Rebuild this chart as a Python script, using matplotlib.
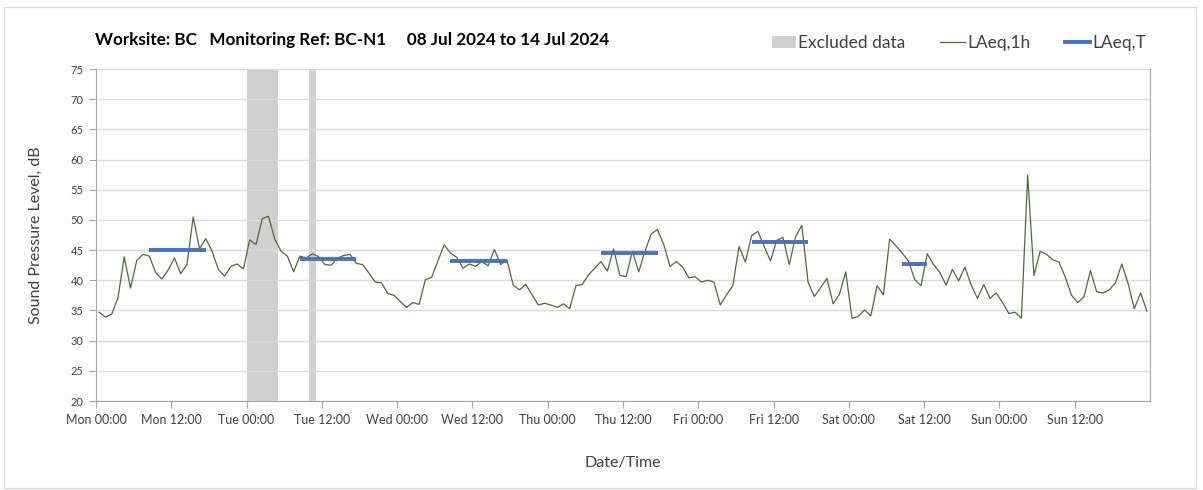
import numpy as np
import matplotlib
matplotlib.use("Agg")
import matplotlib.pyplot as plt
from matplotlib.patches import Rectangle, Patch
from matplotlib.lines import Line2D

plt.rcParams['font.family'] = ['Lato', 'DejaVu Sans']

# hourly LAeq,1h values, Mon 00:00 .. Sun 23:00
laeq_1h = [
    34.7, 33.9, 34.4, 37.1, 43.9, 38.7, 43.3, 44.3, 44.0, 41.3, 40.2, 41.7,
    43.7, 41.1, 42.6, 50.5, 45.2, 46.9, 44.8, 41.8, 40.7, 42.3, 42.7, 41.9,
    46.7, 45.9, 50.2, 50.6, 46.8, 44.8, 44.0, 41.4, 44.0, 43.7, 44.4, 43.9,
    42.6, 42.5, 43.7, 44.1, 44.3, 42.8, 42.6, 41.2, 39.7, 39.6, 37.8, 37.5,
    36.5, 35.5, 36.3, 36.0, 40.1, 40.5, 43.2, 45.9, 44.5, 43.8, 42.0, 42.7,
    42.3, 43.1, 42.4, 45.1, 42.6, 43.4, 39.2, 38.4, 39.3, 37.6, 35.9, 36.2,
    35.9, 35.5, 36.1, 35.3, 39.1, 39.3, 40.9, 42.0, 43.1, 41.5, 45.2, 40.8,
    40.6, 44.8, 41.4, 44.8, 47.7, 48.4, 45.9, 42.3, 43.1, 42.2, 40.4, 40.6,
    39.7, 40.0, 39.7, 35.9, 37.6, 39.1, 45.6, 43.0, 47.4, 48.1, 45.6, 43.2,
    46.6, 47.1, 42.6, 47.2, 49.1, 39.7, 37.3, 38.8, 40.3, 36.1, 37.7, 41.4,
    33.7, 34.0, 35.1, 34.1, 39.1, 37.6, 46.8, 45.7, 44.5, 43.2, 40.1, 39.1,
    44.4, 42.6, 41.3, 39.2, 41.8, 39.9, 42.2, 39.2, 37.0, 39.3, 37.0, 37.9,
    36.3, 34.5, 34.7, 33.7, 57.4, 40.8, 44.8, 44.3, 43.4, 43.0, 40.5, 37.5,
    36.3, 37.3, 41.6, 38.1, 37.9, 38.4, 39.6, 42.7, 39.5, 35.3, 37.9, 34.9,
]

# LAeq,T working-period averages
laeqT_day = [0, 1, 2, 3, 4, 5]
laeqT_start = [8, 8, 8, 8, 8, 8]
laeqT_end = [17, 17, 17, 17, 17, 12]
laeqT_value = [45.0, 43.6, 43.2, 44.6, 46.4, 42.7]

# excluded periods (hours from Mon 00:00)
excl_start = [24, 34]
excl_end = [29, 35]

day_names = ['Mon', 'Tue', 'Wed', 'Thu', 'Fri', 'Sat', 'Sun']

green = '#4f6b32'
blue = '#4472c4'
grey = '#d0d0d0'
txt = '#404040'

fig = plt.figure(figsize=(12.03, 4.90), dpi=100)
ax = fig.add_axes([96/1203, 1-401/490, (1150-96)/1203, (401-69)/490])

for s, e in zip(excl_start, excl_end):
    ax.axvspan(s, e, color=grey, lw=0, zorder=1)

x = np.arange(len(laeq_1h)) + 0.5
ax.plot(x, laeq_1h, color=green, lw=0.9, zorder=3)

for d, s, e, v in zip(laeqT_day, laeqT_start, laeqT_end, laeqT_value):
    ax.plot([d*24 + s + 0.5, d*24 + e + 0.5], [v, v], color=blue, lw=2.8,
            solid_capstyle='butt', zorder=4)

ax.set_xlim(0, 168)
ax.set_ylim(20, 75)
ax.set_yticks(np.arange(20, 76, 5))
ax.set_xticks(np.arange(0, 168, 12))
ax.set_xticklabels([f'{day_names[h // 24]} {h % 24:02d}:00' for h in range(0, 168, 12)])
ax.set_xticks(np.arange(24, 168, 24), minor=True)
ax.grid(axis='y', color='#d9d9d9', lw=1, zorder=0)
ax.grid(axis='x', which='minor', color='#d9d9d9', lw=1, zorder=0)
ax.tick_params(axis='x', which='minor', length=0)
ax.tick_params(axis='both', which='major', labelsize=9, colors=txt,
               length=5, color='#a6a6a6', pad=4)
ax.tick_params(axis='y', labelsize=8)
for sp in ['left', 'bottom', 'right']:
    ax.spines[sp].set_color('#a6a6a6')
ax.spines['top'].set_visible(False)

ax.set_ylabel('Sound Pressure Level, dB', fontsize=11.5, color=txt, labelpad=20)
ax.set_xlabel('Date/Time', fontsize=11.5, color=txt, labelpad=22)

fig.text(95/1203, 1-40/490, 'Worksite: BC   Monitoring Ref: BC-N1     08 Jul 2024 to 14 Jul 2024',
         fontsize=12.3, fontweight='bold', va='center', ha='left', color='black')

handles = [Patch(color=grey, lw=0),
           Line2D([], [], color=green, lw=0.9),
           Line2D([], [], color=blue, lw=2.8)]
fig.legend(handles, ['Excluded data', 'LAeq,1h', 'LAeq,T'], ncol=3, frameon=False,
           loc='center right', bbox_to_anchor=(1146/1203, 1-43/490), fontsize=12.5,
           handlelength=1.4, handletextpad=0.15, columnspacing=2.0, labelcolor=txt,
           borderaxespad=0, borderpad=0)

fig.add_artist(Rectangle((4/1203, 2/490), 1192/1203, 481/490, transform=fig.transFigure,
                         fill=False, ec='#d9d9d9', lw=1))

fig.savefig('out.png', dpi=100)
